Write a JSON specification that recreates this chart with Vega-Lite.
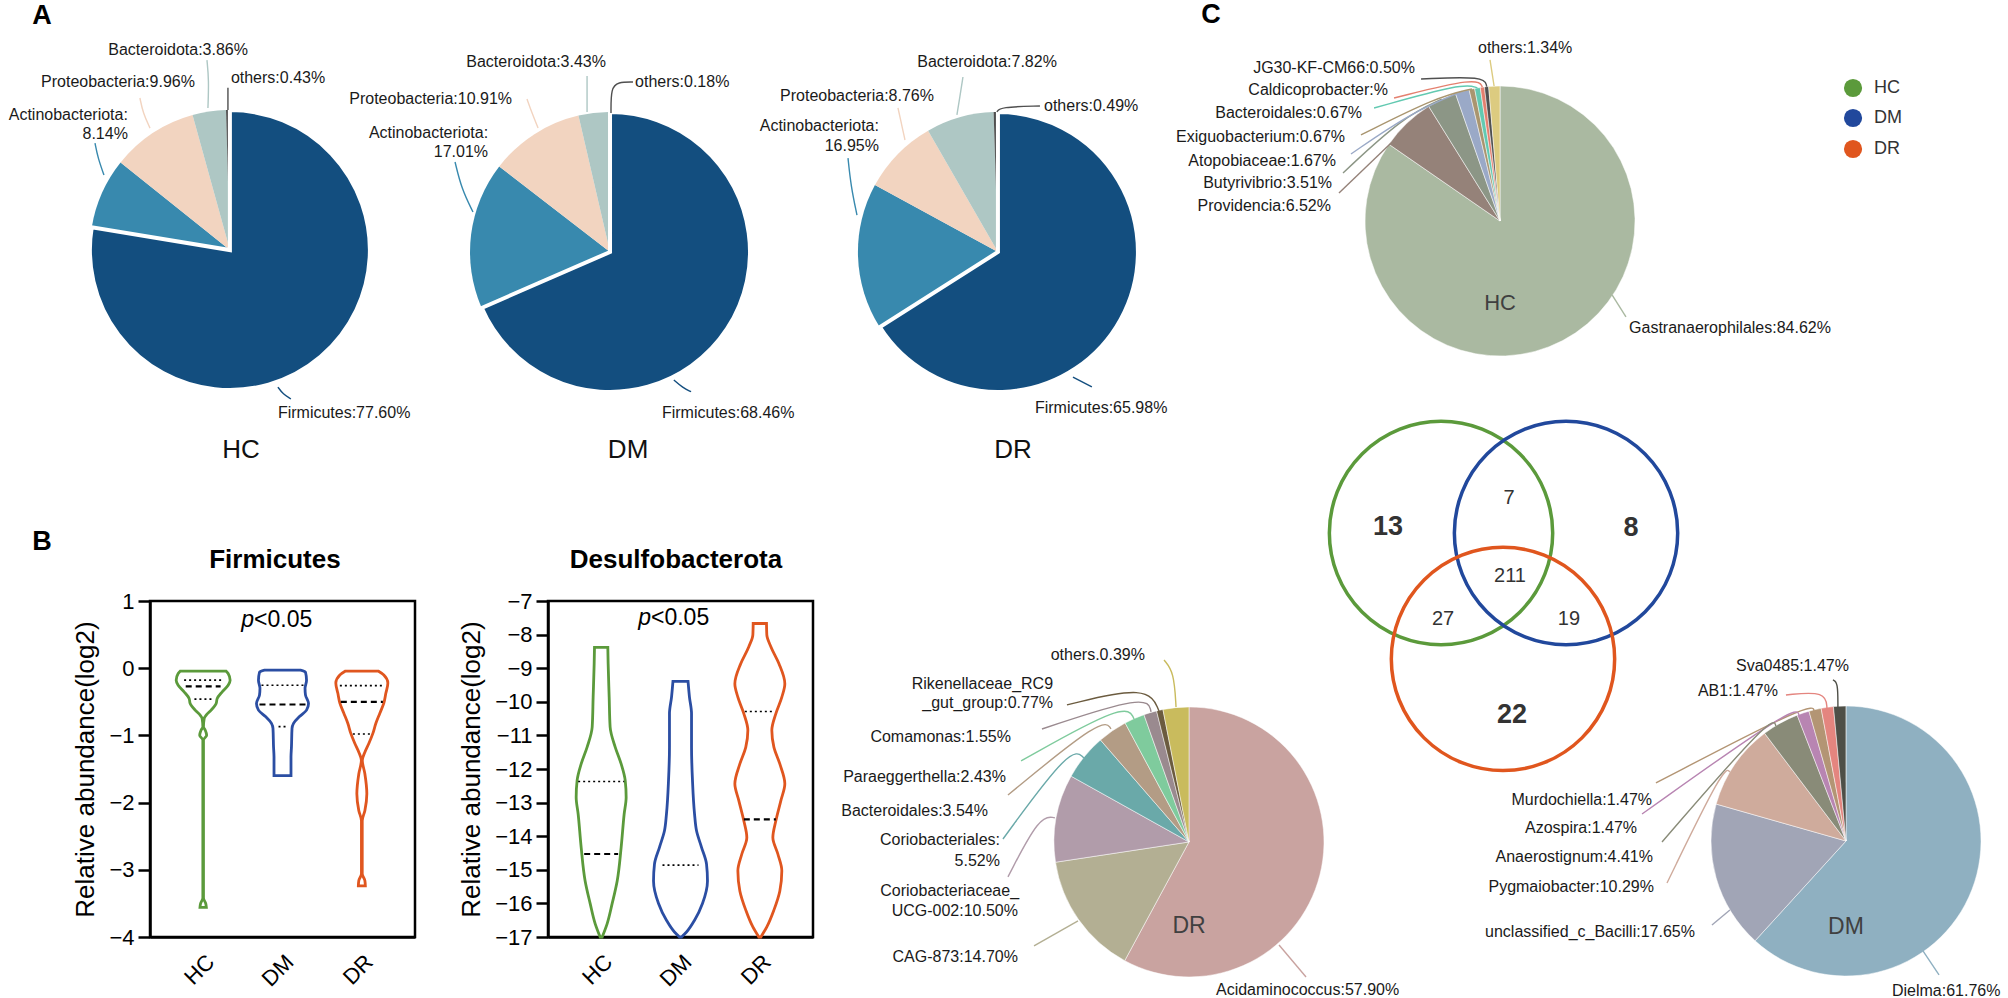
{
  "$schema": "https://vega.github.io/schema/vega-lite/v6.json",
  "padding": 0,
  "background": "white",
  "columns": 4,
  "align": "each",
  "bounds": "flush",
  "spacing": {"row": 0, "column": 0},
  "resolve": {
    "scale": {"x": "independent", "y": "independent", "color": "independent", "stroke": "independent", "theta": "independent"},
    "axis": {"x": "independent", "y": "independent"},
    "legend": {"color": "independent", "stroke": "independent"}
  },
  "config": {
    "font": "Liberation Sans",
    "view": {"stroke": null},
    "axis": {"domainColor": "black", "domainWidth": 2.5, "tickColor": "black", "tickWidth": 2.5, "labelColor": "black", "titleColor": "black", "grid": false, "labelFontSize": 22, "titleFontSize": 26, "titleFontWeight": "normal", "labelFlush": false, "labelOverlap": false, "labelFont": "Liberation Sans", "titleFont": "Liberation Sans"},
    "text": {"font": "Liberation Sans"}
  },
  "datasets": {
    "a_hc": [
      {"name": "Actinobacteriota", "pct": 8.14, "ord": 2, "cx": 0, "cy": 0},
      {"name": "Proteobacteria", "pct": 9.96, "ord": 3, "cx": 0, "cy": 0},
      {"name": "Bacteroidota", "pct": 3.86, "ord": 4, "cx": 0, "cy": 0},
      {"name": "others", "pct": 0.43, "ord": 5, "cx": 0, "cy": 0},
      {"name": "Firmicutes", "pct": 77.6, "ord": 1, "cx": 0, "cy": 0}
    ],
    "a_dm": [
      {"name": "Actinobacteriota", "pct": 17.01, "ord": 2, "cx": 0, "cy": 0},
      {"name": "Proteobacteria", "pct": 10.91, "ord": 3, "cx": 0, "cy": 0},
      {"name": "Bacteroidota", "pct": 3.43, "ord": 4, "cx": 0, "cy": 0},
      {"name": "others", "pct": 0.18, "ord": 5, "cx": 0, "cy": 0},
      {"name": "Firmicutes", "pct": 68.46, "ord": 1, "cx": 0, "cy": 0}
    ],
    "a_dr": [
      {"name": "Actinobacteriota", "pct": 16.95, "ord": 2, "cx": 0, "cy": 0},
      {"name": "Proteobacteria", "pct": 8.76, "ord": 3, "cx": 0, "cy": 0},
      {"name": "Bacteroidota", "pct": 7.82, "ord": 4, "cx": 0, "cy": 0},
      {"name": "others", "pct": 0.49, "ord": 5, "cx": 0, "cy": 0},
      {"name": "Firmicutes", "pct": 65.98, "ord": 1, "cx": 0, "cy": 0}
    ],
    "a_hc_ln": [
      {"name": "Bacteroidota", "i": 0, "x": -0.157, "y": -1.014},
      {"name": "Bacteroidota", "i": 1, "x": -0.15, "y": -1.214},
      {"name": "Bacteroidota", "i": 2, "x": -0.164, "y": -1.357},
      {"name": "Proteobacteria", "i": 0, "x": -0.571, "y": -0.871},
      {"name": "Proteobacteria", "i": 1, "x": -0.621, "y": -0.979},
      {"name": "Proteobacteria", "i": 2, "x": -0.643, "y": -1.086},
      {"name": "Actinobacteriota", "i": 0, "x": -0.9, "y": -0.536},
      {"name": "Actinobacteriota", "i": 1, "x": -0.943, "y": -0.657},
      {"name": "Actinobacteriota", "i": 2, "x": -0.964, "y": -0.764},
      {"name": "others", "i": 0, "x": -0.014, "y": -1.0},
      {"name": "others", "i": 1, "x": -0.014, "y": -1.16},
      {"name": "Firmicutes", "i": 0, "x": 0.343, "y": 0.979},
      {"name": "Firmicutes", "i": 1, "x": 0.38, "y": 1.03},
      {"name": "Firmicutes", "i": 2, "x": 0.436, "y": 1.064}
    ],
    "a_dm_ln": [
      {"name": "Bacteroidota", "i": 0, "x": -0.164, "y": -1.0},
      {"name": "Bacteroidota", "i": 1, "x": -0.164, "y": -1.257},
      {"name": "Proteobacteria", "i": 0, "x": -0.514, "y": -0.886},
      {"name": "Proteobacteria", "i": 1, "x": -0.56, "y": -1.0},
      {"name": "Proteobacteria", "i": 2, "x": -0.593, "y": -1.093},
      {"name": "Actinobacteriota", "i": 0, "x": -0.979, "y": -0.286},
      {"name": "Actinobacteriota", "i": 1, "x": -1.06, "y": -0.45},
      {"name": "Actinobacteriota", "i": 2, "x": -1.107, "y": -0.643},
      {"name": "others", "i": 0, "x": 0.007, "y": -0.993},
      {"name": "others", "i": 1, "x": 0.007, "y": -1.171},
      {"name": "others", "i": 2, "x": 0.057, "y": -1.214},
      {"name": "others", "i": 3, "x": 0.164, "y": -1.214},
      {"name": "Firmicutes", "i": 0, "x": 0.456, "y": 0.914},
      {"name": "Firmicutes", "i": 1, "x": 0.52, "y": 0.97},
      {"name": "Firmicutes", "i": 2, "x": 0.579, "y": 0.998}
    ],
    "a_dr_ln": [
      {"name": "Bacteroidota", "i": 0, "x": -0.293, "y": -0.979},
      {"name": "Bacteroidota", "i": 1, "x": -0.27, "y": -1.12},
      {"name": "Bacteroidota", "i": 2, "x": -0.25, "y": -1.25},
      {"name": "Proteobacteria", "i": 0, "x": -0.664, "y": -0.8},
      {"name": "Proteobacteria", "i": 1, "x": -0.69, "y": -0.92},
      {"name": "Proteobacteria", "i": 2, "x": -0.714, "y": -1.029},
      {"name": "Actinobacteriota", "i": 0, "x": -1.007, "y": -0.264},
      {"name": "Actinobacteriota", "i": 1, "x": -1.05, "y": -0.47},
      {"name": "Actinobacteriota", "i": 2, "x": -1.071, "y": -0.671},
      {"name": "others", "i": 0, "x": -0.007, "y": -1.0},
      {"name": "others", "i": 1, "x": 0.014, "y": -1.036},
      {"name": "others", "i": 2, "x": 0.3, "y": -1.043},
      {"name": "Firmicutes", "i": 0, "x": 0.536, "y": 0.893},
      {"name": "Firmicutes", "i": 1, "x": 0.671, "y": 0.964}
    ],
    "a_hc_r": [
      {"t": "Bacteroidota:3.86%", "x": 0.129, "y": -1.429},
      {"t": "Proteobacteria:9.96%", "x": -0.25, "y": -1.2},
      {"t": "Actinobacteriota:", "x": -0.729, "y": -0.964},
      {"t": "8.14%", "x": -0.729, "y": -0.829}
    ],
    "a_hc_l": [
      {"t": "others:0.43%", "x": 0.007, "y": -1.229},
      {"t": "Firmicutes:77.60%", "x": 0.343, "y": 1.164}
    ],
    "a_dm_r": [
      {"t": "Bacteroidota:3.43%", "x": -0.029, "y": -1.357},
      {"t": "Proteobacteria:10.91%", "x": -0.7, "y": -1.093},
      {"t": "Actinobacteriota:", "x": -0.871, "y": -0.85},
      {"t": "17.01%", "x": -0.871, "y": -0.714}
    ],
    "a_dm_l": [
      {"t": "others:0.18%", "x": 0.179, "y": -1.214},
      {"t": "Firmicutes:68.46%", "x": 0.371, "y": 1.15}
    ],
    "a_dr_r": [
      {"t": "Bacteroidota:7.82%", "x": 0.421, "y": -1.357},
      {"t": "Proteobacteria:8.76%", "x": -0.457, "y": -1.114},
      {"t": "Actinobacteriota:", "x": -0.85, "y": -0.9},
      {"t": "16.95%", "x": -0.85, "y": -0.757}
    ],
    "a_dr_l": [
      {"t": "others:0.49%", "x": 0.329, "y": -1.043},
      {"t": "Firmicutes:65.98%", "x": 0.264, "y": 1.114}
    ],
    "c_hc": [
      {"name": "Gastranaerophilales", "pct": 84.62, "ord": 1, "cx": 0, "cy": 0},
      {"name": "Providencia", "pct": 6.52, "ord": 2, "cx": 0, "cy": 0},
      {"name": "Butyrivibrio", "pct": 3.51, "ord": 3, "cx": 0, "cy": 0},
      {"name": "Atopobiaceae", "pct": 1.67, "ord": 4, "cx": 0, "cy": 0},
      {"name": "Exiguobacterium", "pct": 0.67, "ord": 5, "cx": 0, "cy": 0},
      {"name": "Bacteroidales", "pct": 0.67, "ord": 6, "cx": 0, "cy": 0},
      {"name": "Caldicoprobacter", "pct": 0.5, "ord": 7, "cx": 0, "cy": 0},
      {"name": "JG30-KF-CM66", "pct": 0.5, "ord": 8, "cx": 0, "cy": 0},
      {"name": "others", "pct": 1.34, "ord": 9, "cx": 0, "cy": 0}
    ],
    "c_hc_ln": [
      {"name": "Gastranaerophilales", "i": 0, "x": 0.83, "y": 0.548},
      {"name": "Gastranaerophilales", "i": 1, "x": 0.933, "y": 0.711},
      {"name": "Providencia", "i": 0, "x": -0.807, "y": -0.578},
      {"name": "Providencia", "i": 1, "x": -1.193, "y": -0.207},
      {"name": "Butyrivibrio", "i": 0, "x": -0.432, "y": -0.902},
      {"name": "Butyrivibrio", "i": 1, "x": -0.719, "y": -0.77},
      {"name": "Butyrivibrio", "i": 2, "x": -1.163, "y": -0.356},
      {"name": "Atopobiaceae", "i": 0, "x": -0.281, "y": -0.96},
      {"name": "Atopobiaceae", "i": 1, "x": -0.652, "y": -0.807},
      {"name": "Atopobiaceae", "i": 2, "x": -1.104, "y": -0.496},
      {"name": "Exiguobacterium", "i": 0, "x": -0.208, "y": -0.978},
      {"name": "Exiguobacterium", "i": 1, "x": -0.467, "y": -0.919},
      {"name": "Exiguobacterium", "i": 2, "x": -1.03, "y": -0.637},
      {"name": "Bacteroidales", "i": 0, "x": -0.167, "y": -0.986},
      {"name": "Bacteroidales", "i": 1, "x": -0.274, "y": -1.022},
      {"name": "Bacteroidales", "i": 2, "x": -0.933, "y": -0.837},
      {"name": "Caldicoprobacter", "i": 0, "x": -0.131, "y": -0.991},
      {"name": "Caldicoprobacter", "i": 1, "x": -0.163, "y": -1.067},
      {"name": "Caldicoprobacter", "i": 2, "x": -0.785, "y": -0.911},
      {"name": "JG30-KF-CM66", "i": 0, "x": -0.099, "y": -0.995},
      {"name": "JG30-KF-CM66", "i": 1, "x": -0.111, "y": -1.074},
      {"name": "JG30-KF-CM66", "i": 2, "x": -0.585, "y": -1.052},
      {"name": "others", "i": 0, "x": -0.044, "y": -1.0},
      {"name": "others", "i": 1, "x": -0.074, "y": -1.193}
    ],
    "c_hc_r": [
      {"t": "JG30-KF-CM66:0.50%", "x": -0.63, "y": -1.133},
      {"t": "Caldicoprobacter:%", "x": -0.83, "y": -0.97},
      {"t": "Bacteroidales:0.67%", "x": -1.022, "y": -0.8},
      {"t": "Exiguobacterium:0.67%", "x": -1.148, "y": -0.622},
      {"t": "Atopobiaceae:1.67%", "x": -1.215, "y": -0.444},
      {"t": "Butyrivibrio:3.51%", "x": -1.244, "y": -0.281},
      {"t": "Providencia:6.52%", "x": -1.252, "y": -0.111}
    ],
    "c_hc_l": [
      {"t": "others:1.34%", "x": -0.163, "y": -1.281},
      {"t": "Gastranaerophilales:84.62%", "x": 0.956, "y": 0.793}
    ],
    "venn": [
      {"set": "HC", "x": -0.437, "y": 2.311},
      {"set": "DM", "x": 0.489, "y": 2.311},
      {"set": "DR", "x": 0.022, "y": 3.244}
    ],
    "venn_key": [
      {"set": "HC", "x": 2.615, "y": -0.985},
      {"set": "DM", "x": 2.615, "y": -0.763},
      {"set": "DR", "x": 2.615, "y": -0.533}
    ],
    "venn_n": [
      {"n": "13", "sets": 1, "x": -0.83, "y": 2.267},
      {"n": "8", "sets": 1, "x": 0.97, "y": 2.274},
      {"n": "22", "sets": 1, "x": 0.089, "y": 3.659},
      {"n": "7", "sets": 2, "x": 0.067, "y": 2.052},
      {"n": "27", "sets": 2, "x": -0.422, "y": 2.948},
      {"n": "19", "sets": 2, "x": 0.511, "y": 2.948},
      {"n": "211", "sets": 3, "x": 0.074, "y": 2.63}
    ],
    "c_dr": [
      {"name": "Acidaminococcus", "pct": 57.9, "ord": 1, "cx": 0, "cy": 0},
      {"name": "CAG-873", "pct": 14.7, "ord": 2, "cx": 0, "cy": 0},
      {"name": "Coriobacteriaceae_UCG-002", "pct": 10.5, "ord": 3, "cx": 0, "cy": 0},
      {"name": "Coriobacteriales", "pct": 5.52, "ord": 4, "cx": 0, "cy": 0},
      {"name": "Bacteroidales", "pct": 3.54, "ord": 5, "cx": 0, "cy": 0},
      {"name": "Paraeggerthella", "pct": 2.43, "ord": 6, "cx": 0, "cy": 0},
      {"name": "Comamonas", "pct": 1.55, "ord": 7, "cx": 0, "cy": 0},
      {"name": "Rikenellaceae_RC9_gut_group", "pct": 0.77, "ord": 8, "cx": 0, "cy": 0},
      {"name": "others", "pct": 3.09, "ord": 9, "cx": 0, "cy": 0}
    ],
    "c_dm": [
      {"name": "Dielma", "pct": 61.76, "ord": 1, "cx": 4.867, "cy": -0.007},
      {"name": "unclassified_c_Bacilli", "pct": 17.65, "ord": 2, "cx": 4.867, "cy": -0.007},
      {"name": "Pygmaiobacter", "pct": 10.29, "ord": 3, "cx": 4.867, "cy": -0.007},
      {"name": "Anaerostignum", "pct": 4.41, "ord": 4, "cx": 4.867, "cy": -0.007},
      {"name": "Azospira", "pct": 1.47, "ord": 5, "cx": 4.867, "cy": -0.007},
      {"name": "Murdochiella", "pct": 1.47, "ord": 6, "cx": 4.867, "cy": -0.007},
      {"name": "AB1", "pct": 1.47, "ord": 7, "cx": 4.867, "cy": -0.007},
      {"name": "Sva0485", "pct": 1.47, "ord": 8, "cx": 4.867, "cy": -0.007}
    ],
    "c_b_ln": [
      {"name": "others", "i": 0, "x": -0.096, "y": -1.0},
      {"name": "others", "i": 1, "x": -0.111, "y": -1.259},
      {"name": "others", "i": 2, "x": -0.185, "y": -1.348},
      {"name": "Rikenellaceae_RC9_gut_group", "i": 0, "x": -0.222, "y": -0.97},
      {"name": "Rikenellaceae_RC9_gut_group", "i": 1, "x": -0.304, "y": -1.163},
      {"name": "Rikenellaceae_RC9_gut_group", "i": 2, "x": -0.904, "y": -1.015},
      {"name": "Comamonas", "i": 0, "x": -0.281, "y": -0.963},
      {"name": "Comamonas", "i": 1, "x": -0.311, "y": -1.096},
      {"name": "Comamonas", "i": 2, "x": -1.089, "y": -0.837},
      {"name": "Paraeggerthella", "i": 0, "x": -0.407, "y": -0.911},
      {"name": "Paraeggerthella", "i": 1, "x": -0.467, "y": -1.037},
      {"name": "Paraeggerthella", "i": 2, "x": -1.244, "y": -0.6},
      {"name": "Bacteroidales", "i": 0, "x": -0.578, "y": -0.837},
      {"name": "Bacteroidales", "i": 1, "x": -0.637, "y": -0.926},
      {"name": "Bacteroidales", "i": 2, "x": -1.341, "y": -0.348},
      {"name": "Coriobacteriales", "i": 0, "x": -0.778, "y": -0.622},
      {"name": "Coriobacteriales", "i": 1, "x": -0.874, "y": -0.711},
      {"name": "Coriobacteriales", "i": 2, "x": -1.378, "y": -0.022},
      {"name": "Coriobacteriaceae_UCG-002", "i": 0, "x": -0.993, "y": -0.178},
      {"name": "Coriobacteriaceae_UCG-002", "i": 1, "x": -1.104, "y": -0.2},
      {"name": "Coriobacteriaceae_UCG-002", "i": 2, "x": -1.341, "y": 0.259},
      {"name": "CAG-873", "i": 0, "x": -0.822, "y": 0.585},
      {"name": "CAG-873", "i": 1, "x": -1.148, "y": 0.77},
      {"name": "Acidaminococcus", "i": 0, "x": 0.667, "y": 0.763},
      {"name": "Acidaminococcus", "i": 1, "x": 0.867, "y": 1.0},
      {"name": "Sva0485", "i": 0, "x": 4.807, "y": -0.996},
      {"name": "Sva0485", "i": 1, "x": 4.807, "y": -1.185},
      {"name": "Sva0485", "i": 2, "x": 4.77, "y": -1.2},
      {"name": "AB1", "i": 0, "x": 4.726, "y": -0.985},
      {"name": "AB1", "i": 1, "x": 4.719, "y": -1.119},
      {"name": "AB1", "i": 2, "x": 4.422, "y": -1.089},
      {"name": "Murdochiella", "i": 0, "x": 4.63, "y": -0.963},
      {"name": "Murdochiella", "i": 1, "x": 4.622, "y": -1.044},
      {"name": "Murdochiella", "i": 2, "x": 3.459, "y": -0.437},
      {"name": "Azospira", "i": 0, "x": 4.519, "y": -0.941},
      {"name": "Azospira", "i": 1, "x": 4.489, "y": -1.015},
      {"name": "Azospira", "i": 2, "x": 3.356, "y": -0.207},
      {"name": "Anaerostignum", "i": 0, "x": 4.348, "y": -0.859},
      {"name": "Anaerostignum", "i": 1, "x": 4.319, "y": -0.941},
      {"name": "Anaerostignum", "i": 2, "x": 3.504, "y": 0.0},
      {"name": "Pygmaiobacter", "i": 0, "x": 4.007, "y": -0.519},
      {"name": "Pygmaiobacter", "i": 1, "x": 3.963, "y": -0.563},
      {"name": "Pygmaiobacter", "i": 2, "x": 3.541, "y": 0.304},
      {"name": "unclassified_c_Bacilli", "i": 0, "x": 4.007, "y": 0.504},
      {"name": "unclassified_c_Bacilli", "i": 1, "x": 3.874, "y": 0.615},
      {"name": "Dielma", "i": 0, "x": 5.437, "y": 0.807},
      {"name": "Dielma", "i": 1, "x": 5.556, "y": 0.985}
    ],
    "c_b_r": [
      {"t": "others.0.39%", "x": -0.326, "y": -1.385},
      {"t": "Rikenellaceae_RC9", "x": -1.007, "y": -1.17},
      {"t": "_gut_group:0.77%", "x": -1.007, "y": -1.03},
      {"t": "Comamonas:1.55%", "x": -1.319, "y": -0.778},
      {"t": "Paraeggerthella:2.43%", "x": -1.356, "y": -0.481},
      {"t": "Bacteroidales:3.54%", "x": -1.489, "y": -0.23},
      {"t": "Coriobacteriales:", "x": -1.4, "y": -0.015},
      {"t": "5.52%", "x": -1.4, "y": 0.141},
      {"t": "Coriobacteriaceae_", "x": -1.259, "y": 0.363},
      {"t": "UCG-002:10.50%", "x": -1.267, "y": 0.511},
      {"t": "CAG-873:14.70%", "x": -1.267, "y": 0.852},
      {"t": "Sva0485:1.47%", "x": 4.889, "y": -1.304},
      {"t": "AB1:1.47%", "x": 4.363, "y": -1.119},
      {"t": "Murdochiella:1.47%", "x": 3.43, "y": -0.311},
      {"t": "Azospira:1.47%", "x": 3.319, "y": -0.104},
      {"t": "Anaerostignum:4.41%", "x": 3.437, "y": 0.111},
      {"t": "Pygmaiobacter:10.29%", "x": 3.444, "y": 0.333},
      {"t": "unclassified_c_Bacilli:17.65%", "x": 3.748, "y": 0.667}
    ],
    "c_b_l": [
      {"t": "Acidaminococcus:57.90%", "x": 0.2, "y": 1.096},
      {"t": "Dielma:61.76%", "x": 5.207, "y": 1.104}
    ],
    "firm_v": [
      {"g": "HC", "v": -0.045, "l": 0.71, "r": 1.29},
      {"g": "HC", "v": -0.079, "l": 0.685, "r": 1.315},
      {"g": "HC", "v": -0.178, "l": 0.66, "r": 1.34},
      {"g": "HC", "v": -0.253, "l": 0.685, "r": 1.315},
      {"g": "HC", "v": -0.352, "l": 0.76, "r": 1.24},
      {"g": "HC", "v": -0.45, "l": 0.823, "r": 1.177},
      {"g": "HC", "v": -0.525, "l": 0.836, "r": 1.164},
      {"g": "HC", "v": -0.624, "l": 0.899, "r": 1.101},
      {"g": "HC", "v": -0.698, "l": 0.962, "r": 1.038},
      {"g": "HC", "v": -0.747, "l": 0.987, "r": 1.013},
      {"g": "HC", "v": -0.87, "l": 0.996, "r": 1.004},
      {"g": "HC", "v": -0.92, "l": 0.975, "r": 1.025},
      {"g": "HC", "v": -0.996, "l": 0.956, "r": 1.044},
      {"g": "HC", "v": -1.07, "l": 0.996, "r": 1.004},
      {"g": "HC", "v": -3.42, "l": 0.996, "r": 1.004},
      {"g": "HC", "v": -3.5, "l": 0.968, "r": 1.032},
      {"g": "HC", "v": -3.56, "l": 0.96, "r": 1.04},
      {"g": "DM", "v": -0.03, "l": 1.773, "r": 2.227},
      {"g": "DM", "v": -0.06, "l": 1.71, "r": 2.29},
      {"g": "DM", "v": -0.178, "l": 1.697, "r": 2.303},
      {"g": "DM", "v": -0.3, "l": 1.716, "r": 2.284},
      {"g": "DM", "v": -0.4, "l": 1.71, "r": 2.29},
      {"g": "DM", "v": -0.525, "l": 1.672, "r": 2.328},
      {"g": "DM", "v": -0.624, "l": 1.697, "r": 2.303},
      {"g": "DM", "v": -0.72, "l": 1.786, "r": 2.214},
      {"g": "DM", "v": -0.82, "l": 1.861, "r": 2.139},
      {"g": "DM", "v": -0.896, "l": 1.88, "r": 2.12},
      {"g": "DM", "v": -1.17, "l": 1.887, "r": 2.113},
      {"g": "DM", "v": -1.32, "l": 1.893, "r": 2.107},
      {"g": "DM", "v": -1.6, "l": 1.893, "r": 2.107},
      {"g": "DR", "v": -0.045, "l": 2.789, "r": 3.211},
      {"g": "DR", "v": -0.1, "l": 2.723, "r": 3.277},
      {"g": "DR", "v": -0.22, "l": 2.672, "r": 3.328},
      {"g": "DR", "v": -0.37, "l": 2.697, "r": 3.303},
      {"g": "DR", "v": -0.52, "l": 2.723, "r": 3.277},
      {"g": "DR", "v": -0.67, "l": 2.773, "r": 3.227},
      {"g": "DR", "v": -0.82, "l": 2.823, "r": 3.177},
      {"g": "DR", "v": -0.97, "l": 2.861, "r": 3.139},
      {"g": "DR", "v": -1.12, "l": 2.912, "r": 3.088},
      {"g": "DR", "v": -1.25, "l": 2.962, "r": 3.038},
      {"g": "DR", "v": -1.37, "l": 2.994, "r": 3.006},
      {"g": "DR", "v": -1.57, "l": 2.962, "r": 3.038},
      {"g": "DR", "v": -1.87, "l": 2.937, "r": 3.063},
      {"g": "DR", "v": -2.12, "l": 2.962, "r": 3.038},
      {"g": "DR", "v": -2.27, "l": 2.995, "r": 3.005},
      {"g": "DR", "v": -3.06, "l": 2.995, "r": 3.005},
      {"g": "DR", "v": -3.16, "l": 2.962, "r": 3.038},
      {"g": "DR", "v": -3.24, "l": 2.956, "r": 3.044}
    ],
    "firm_q": [
      {"g": "HC", "stat": "quartile", "v": -0.178, "l": 0.76, "r": 1.24},
      {"g": "HC", "stat": "median", "v": -0.27, "l": 0.78, "r": 1.22},
      {"g": "HC", "stat": "quartile", "v": -0.46, "l": 0.89, "r": 1.11},
      {"g": "DM", "stat": "quartile", "v": -0.253, "l": 1.735, "r": 2.265},
      {"g": "DM", "stat": "median", "v": -0.54, "l": 1.71, "r": 2.29},
      {"g": "DM", "stat": "quartile", "v": -0.87, "l": 1.95, "r": 2.05},
      {"g": "DR", "stat": "quartile", "v": -0.26, "l": 2.723, "r": 3.277},
      {"g": "DR", "stat": "median", "v": -0.5, "l": 2.735, "r": 3.265},
      {"g": "DR", "stat": "quartile", "v": -0.98, "l": 2.887, "r": 3.113}
    ],
    "des_v": [
      {"g": "HC", "v": -8.38, "l": 0.916, "r": 1.084},
      {"g": "HC", "v": -8.86, "l": 0.912, "r": 1.088},
      {"g": "HC", "v": -9.86, "l": 0.899, "r": 1.101},
      {"g": "HC", "v": -10.75, "l": 0.887, "r": 1.113},
      {"g": "HC", "v": -11.35, "l": 0.823, "r": 1.177},
      {"g": "HC", "v": -11.85, "l": 0.748, "r": 1.252},
      {"g": "HC", "v": -12.34, "l": 0.697, "r": 1.303},
      {"g": "HC", "v": -12.84, "l": 0.685, "r": 1.315},
      {"g": "HC", "v": -13.34, "l": 0.71, "r": 1.29},
      {"g": "HC", "v": -14.33, "l": 0.748, "r": 1.252},
      {"g": "HC", "v": -15.33, "l": 0.798, "r": 1.202},
      {"g": "HC", "v": -16.0, "l": 0.861, "r": 1.139},
      {"g": "HC", "v": -16.6, "l": 0.924, "r": 1.076},
      {"g": "HC", "v": -17.0, "l": 0.987, "r": 1.013},
      {"g": "DM", "v": -9.39, "l": 1.905, "r": 2.095},
      {"g": "DM", "v": -9.86, "l": 1.887, "r": 2.113},
      {"g": "DM", "v": -10.35, "l": 1.861, "r": 2.139},
      {"g": "DM", "v": -11.35, "l": 1.861, "r": 2.139},
      {"g": "DM", "v": -12.34, "l": 1.849, "r": 2.151},
      {"g": "DM", "v": -13.34, "l": 1.823, "r": 2.177},
      {"g": "DM", "v": -13.84, "l": 1.798, "r": 2.202},
      {"g": "DM", "v": -14.33, "l": 1.735, "r": 2.265},
      {"g": "DM", "v": -14.83, "l": 1.672, "r": 2.328},
      {"g": "DM", "v": -15.33, "l": 1.66, "r": 2.34},
      {"g": "DM", "v": -16.0, "l": 1.723, "r": 2.277},
      {"g": "DM", "v": -16.5, "l": 1.823, "r": 2.177},
      {"g": "DM", "v": -16.85, "l": 1.924, "r": 2.076},
      {"g": "DM", "v": -17.0, "l": 1.987, "r": 2.013},
      {"g": "DR", "v": -7.67, "l": 2.916, "r": 3.084},
      {"g": "DR", "v": -8.01, "l": 2.912, "r": 3.088},
      {"g": "DR", "v": -8.36, "l": 2.861, "r": 3.139},
      {"g": "DR", "v": -8.86, "l": 2.76, "r": 3.24},
      {"g": "DR", "v": -9.46, "l": 2.685, "r": 3.315},
      {"g": "DR", "v": -9.86, "l": 2.723, "r": 3.277},
      {"g": "DR", "v": -10.35, "l": 2.798, "r": 3.202},
      {"g": "DR", "v": -10.85, "l": 2.849, "r": 3.151},
      {"g": "DR", "v": -11.35, "l": 2.823, "r": 3.177},
      {"g": "DR", "v": -11.85, "l": 2.748, "r": 3.252},
      {"g": "DR", "v": -12.44, "l": 2.685, "r": 3.315},
      {"g": "DR", "v": -12.94, "l": 2.735, "r": 3.265},
      {"g": "DR", "v": -13.54, "l": 2.798, "r": 3.202},
      {"g": "DR", "v": -14.04, "l": 2.836, "r": 3.164},
      {"g": "DR", "v": -14.53, "l": 2.773, "r": 3.227},
      {"g": "DR", "v": -15.03, "l": 2.723, "r": 3.277},
      {"g": "DR", "v": -15.63, "l": 2.748, "r": 3.252},
      {"g": "DR", "v": -16.2, "l": 2.823, "r": 3.177},
      {"g": "DR", "v": -16.7, "l": 2.912, "r": 3.088},
      {"g": "DR", "v": -17.0, "l": 2.987, "r": 3.013}
    ],
    "des_q": [
      {"g": "HC", "stat": "quartile", "v": -12.37, "l": 0.71, "r": 1.29},
      {"g": "HC", "stat": "median", "v": -14.53, "l": 0.786, "r": 1.214},
      {"g": "DM", "stat": "quartile", "v": -14.86, "l": 1.773, "r": 2.227},
      {"g": "DR", "stat": "quartile", "v": -10.29, "l": 2.811, "r": 3.189},
      {"g": "DR", "stat": "median", "v": -13.5, "l": 2.798, "r": 3.202}
    ]
  },
  "concat": [
    {
      "width": 150, "height": 601,
      "encoding": {
        "x": {"field": "x", "type": "quantitative", "scale": {"domain": [-1.643, -0.571], "nice": false, "zero": false}, "axis": null},
        "y": {"field": "y", "type": "quantitative", "scale": {"domain": [-1.786, 2.507], "nice": false, "zero": false, "reverse": true}, "axis": null}
      },
      "layer": [
        {"data": {"name": "a_hc"},
         "transform": [{"stack": "pct", "groupby": [], "sort": [{"field": "ord", "order": "ascending"}], "as": ["t0", "t1"]}],
         "mark": {"type": "arc", "radius": 140, "stroke": "white"},
         "encoding": {
           "x": {"field": "cx", "type": "quantitative", "axis": null},
           "y": {"field": "cy", "type": "quantitative", "axis": null},
           "theta": {"field": "t0", "type": "quantitative", "scale": {"domain": [0, 100], "nice": false, "zero": false}},
           "theta2": {"field": "t1"},
           "color": {"field": "name", "type": "nominal", "scale": {"domain": ["Firmicutes", "Actinobacteriota", "Proteobacteria", "Bacteroidota", "others"], "range": ["#134e7f", "#3889ae", "#f2d4c0", "#aec7c4", "#4f4f4f"]}, "legend": null},
           "strokeWidth": {"condition": {"test": "datum.name === 'Firmicutes'", "value": 4}, "value": 0}}},
        {"data": {"name": "a_hc_ln"}, "mark": {"type": "line", "strokeWidth": 1.4, "interpolate": "basis"},
         "encoding": {
           "color": {"field": "name", "type": "nominal", "scale": {"domain": ["Firmicutes", "Actinobacteriota", "Proteobacteria", "Bacteroidota", "others"], "range": ["#134e7f", "#3889ae", "#f2d4c0", "#aec7c4", "#4f4f4f"]}, "legend": null},
           "detail": {"field": "name", "type": "nominal"},
           "order": {"field": "i", "type": "quantitative"}}},
        {"data": {"name": "a_hc_r"}, "mark": {"type": "text", "align": "right", "baseline": "middle", "fontSize": 16, "color": "#1a1a1a"}, "encoding": {"text": {"field": "t", "type": "nominal"}}},
        {"data": {"name": "a_hc_l"}, "mark": {"type": "text", "align": "left", "baseline": "middle", "fontSize": 16, "color": "#1a1a1a"}, "encoding": {"text": {"field": "t", "type": "nominal"}}},
        {"data": {"values": [{"t": "HC", "x": 0.079, "y": 1.429}]}, "mark": {"type": "text", "align": "center", "baseline": "middle", "fontSize": 26, "color": "#111111"}, "encoding": {"text": {"field": "t", "type": "nominal"}}},
        {"data": {"values": [{"t": "A", "x": -1.343, "y": -1.671}]}, "mark": {"type": "text", "align": "center", "baseline": "middle", "fontSize": 27, "fontWeight": "bold", "color": "#000000"}, "encoding": {"text": {"field": "t", "type": "nominal"}}}
      ]
    },
    {
      "width": 398, "height": 601,
      "encoding": {
        "x": {"field": "x", "type": "quantitative", "scale": {"domain": [-3.286, -0.443], "nice": false, "zero": false}, "axis": null},
        "y": {"field": "y", "type": "quantitative", "scale": {"domain": [-1.8, 2.493], "nice": false, "zero": false, "reverse": true}, "axis": null}
      },
      "layer": [
        {"data": {"name": "a_dm"},
         "transform": [{"stack": "pct", "groupby": [], "sort": [{"field": "ord", "order": "ascending"}], "as": ["t0", "t1"]}],
         "mark": {"type": "arc", "radius": 140, "stroke": "white"},
         "encoding": {
           "x": {"field": "cx", "type": "quantitative", "axis": null},
           "y": {"field": "cy", "type": "quantitative", "axis": null},
           "theta": {"field": "t0", "type": "quantitative", "scale": {"domain": [0, 100], "nice": false, "zero": false}},
           "theta2": {"field": "t1"},
           "color": {"field": "name", "type": "nominal", "scale": {"domain": ["Firmicutes", "Actinobacteriota", "Proteobacteria", "Bacteroidota", "others"], "range": ["#134e7f", "#3889ae", "#f2d4c0", "#aec7c4", "#4f4f4f"]}, "legend": null},
           "strokeWidth": {"condition": {"test": "datum.name === 'Firmicutes'", "value": 4}, "value": 0}}},
        {"data": {"name": "a_dm_ln"}, "mark": {"type": "line", "strokeWidth": 1.4, "interpolate": "basis"},
         "encoding": {
           "color": {"field": "name", "type": "nominal", "scale": {"domain": ["Firmicutes", "Actinobacteriota", "Proteobacteria", "Bacteroidota", "others"], "range": ["#134e7f", "#3889ae", "#f2d4c0", "#aec7c4", "#4f4f4f"]}, "legend": null},
           "detail": {"field": "name", "type": "nominal"},
           "order": {"field": "i", "type": "quantitative"}}},
        {"data": {"name": "a_dm_r"}, "mark": {"type": "text", "align": "right", "baseline": "middle", "fontSize": 16, "color": "#1a1a1a"}, "encoding": {"text": {"field": "t", "type": "nominal"}}},
        {"data": {"name": "a_dm_l"}, "mark": {"type": "text", "align": "left", "baseline": "middle", "fontSize": 16, "color": "#1a1a1a"}, "encoding": {"text": {"field": "t", "type": "nominal"}}},
        {"data": {"values": [{"t": "DM", "x": 0.129, "y": 1.414}]}, "mark": {"type": "text", "align": "center", "baseline": "middle", "fontSize": 26, "color": "#111111"}, "encoding": {"text": {"field": "t", "type": "nominal"}}}
      ]
    },
    {
      "width": 398, "height": 601,
      "encoding": {
        "x": {"field": "x", "type": "quantitative", "scale": {"domain": [-3.214, -0.371], "nice": false, "zero": false}, "axis": null},
        "y": {"field": "y", "type": "quantitative", "scale": {"domain": [-1.8, 2.493], "nice": false, "zero": false, "reverse": true}, "axis": null}
      },
      "layer": [
        {"data": {"name": "a_dr"},
         "transform": [{"stack": "pct", "groupby": [], "sort": [{"field": "ord", "order": "ascending"}], "as": ["t0", "t1"]}],
         "mark": {"type": "arc", "radius": 140, "stroke": "white"},
         "encoding": {
           "x": {"field": "cx", "type": "quantitative", "axis": null},
           "y": {"field": "cy", "type": "quantitative", "axis": null},
           "theta": {"field": "t0", "type": "quantitative", "scale": {"domain": [0, 100], "nice": false, "zero": false}},
           "theta2": {"field": "t1"},
           "color": {"field": "name", "type": "nominal", "scale": {"domain": ["Firmicutes", "Actinobacteriota", "Proteobacteria", "Bacteroidota", "others"], "range": ["#134e7f", "#3889ae", "#f2d4c0", "#aec7c4", "#4f4f4f"]}, "legend": null},
           "strokeWidth": {"condition": {"test": "datum.name === 'Firmicutes'", "value": 4}, "value": 0}}},
        {"data": {"name": "a_dr_ln"}, "mark": {"type": "line", "strokeWidth": 1.4, "interpolate": "basis"},
         "encoding": {
           "color": {"field": "name", "type": "nominal", "scale": {"domain": ["Firmicutes", "Actinobacteriota", "Proteobacteria", "Bacteroidota", "others"], "range": ["#134e7f", "#3889ae", "#f2d4c0", "#aec7c4", "#4f4f4f"]}, "legend": null},
           "detail": {"field": "name", "type": "nominal"},
           "order": {"field": "i", "type": "quantitative"}}},
        {"data": {"name": "a_dr_r"}, "mark": {"type": "text", "align": "right", "baseline": "middle", "fontSize": 16, "color": "#1a1a1a"}, "encoding": {"text": {"field": "t", "type": "nominal"}}},
        {"data": {"name": "a_dr_l"}, "mark": {"type": "text", "align": "left", "baseline": "middle", "fontSize": 16, "color": "#1a1a1a"}, "encoding": {"text": {"field": "t", "type": "nominal"}}},
        {"data": {"values": [{"t": "DR", "x": 0.107, "y": 1.414}]}, "mark": {"type": "text", "align": "center", "baseline": "middle", "fontSize": 26, "color": "#111111"}, "encoding": {"text": {"field": "t", "type": "nominal"}}}
      ]
    },
    {
      "width": 1062, "height": 601,
      "resolve": {"scale": {"color": "independent"}},
      "encoding": {
        "x": {"field": "x", "type": "quantitative", "scale": {"domain": [-4.104, 3.763], "nice": false, "zero": false}, "axis": null},
        "y": {"field": "y", "type": "quantitative", "scale": {"domain": [-1.637, 2.815], "nice": false, "zero": false, "reverse": true}, "axis": null}
      },
      "layer": [
        {"data": {"name": "c_hc"},
         "transform": [{"stack": "pct", "groupby": [], "sort": [{"field": "ord", "order": "ascending"}], "as": ["t0", "t1"]}],
         "mark": {"type": "arc", "radius": 135, "stroke": "white", "strokeWidth": 0.5},
         "encoding": {
           "x": {"field": "cx", "type": "quantitative", "axis": null},
           "y": {"field": "cy", "type": "quantitative", "axis": null},
           "theta": {"field": "t0", "type": "quantitative", "scale": {"domain": [0, 100], "nice": false, "zero": false}},
           "theta2": {"field": "t1"},
           "color": {"field": "name", "type": "nominal", "scale": {"domain": ["Gastranaerophilales", "Providencia", "Butyrivibrio", "Atopobiaceae", "Exiguobacterium", "Bacteroidales", "Caldicoprobacter", "JG30-KF-CM66", "others"], "range": ["#aab9a1", "#958279", "#8c9686", "#9aa9c7", "#a9956f", "#62c9b1", "#e4806f", "#505050", "#dccb80"]}, "legend": null}}},
        {"data": {"name": "c_hc_ln"}, "mark": {"type": "line", "strokeWidth": 1.4, "interpolate": "basis"},
         "encoding": {
           "color": {"field": "name", "type": "nominal", "scale": {"domain": ["Gastranaerophilales", "Providencia", "Butyrivibrio", "Atopobiaceae", "Exiguobacterium", "Bacteroidales", "Caldicoprobacter", "JG30-KF-CM66", "others"], "range": ["#aab9a1", "#958279", "#8c9686", "#9aa9c7", "#a9956f", "#62c9b1", "#e4806f", "#505050", "#dccb80"]}, "legend": null},
           "detail": {"field": "name", "type": "nominal"},
           "order": {"field": "i", "type": "quantitative"}}},
        {"data": {"name": "c_hc_r"}, "mark": {"type": "text", "align": "right", "baseline": "middle", "fontSize": 16, "color": "#1a1a1a"}, "encoding": {"text": {"field": "t", "type": "nominal"}}},
        {"data": {"name": "c_hc_l"}, "mark": {"type": "text", "align": "left", "baseline": "middle", "fontSize": 16, "color": "#1a1a1a"}, "encoding": {"text": {"field": "t", "type": "nominal"}}},
        {"data": {"values": [{"t": "HC", "x": 0, "y": 0.607}]}, "mark": {"type": "text", "align": "center", "baseline": "middle", "fontSize": 22, "color": "#404040"}, "encoding": {"text": {"field": "t", "type": "nominal"}}},
        {"data": {"values": [{"t": "C", "x": -2.141, "y": -1.526}]}, "mark": {"type": "text", "align": "center", "baseline": "middle", "fontSize": 27, "fontWeight": "bold", "color": "#000000"}, "encoding": {"text": {"field": "t", "type": "nominal"}}},
        {"data": {"name": "venn"}, "mark": {"type": "point", "shape": "circle", "filled": false, "size": 49876, "strokeWidth": 3.5, "opacity": 1},
         "encoding": {
           "color": {"field": "set", "type": "nominal", "scale": {"domain": ["HC", "DM", "DR"], "range": ["#5b9a3b", "#21489c", "#e0561e"]}, "legend": null}}},
        {"data": {"name": "venn_key"}, "mark": {"type": "point", "shape": "circle", "filled": true, "size": 330, "opacity": 1},
         "encoding": {
           "color": {"field": "set", "type": "nominal", "scale": {"domain": ["HC", "DM", "DR"], "range": ["#5b9a3b", "#21489c", "#e0561e"]}, "legend": null}}},
        {"data": {"name": "venn_key"}, "mark": {"type": "text", "align": "left", "baseline": "middle", "fontSize": 18, "dx": 21, "color": "#333333"}, "encoding": {"text": {"field": "set", "type": "nominal"}}},
        {"data": {"name": "venn_n"}, "transform": [{"filter": "datum.sets === 1"}], "mark": {"type": "text", "align": "center", "baseline": "middle", "fontSize": 27, "fontWeight": "bold", "color": "#333333"}, "encoding": {"text": {"field": "n", "type": "nominal"}}},
        {"data": {"name": "venn_n"}, "transform": [{"filter": "datum.sets > 1"}], "mark": {"type": "text", "align": "center", "baseline": "middle", "fontSize": 20, "color": "#333333"}, "encoding": {"text": {"field": "n", "type": "nominal"}}}
      ]
    },
    {
      "width": 150, "height": 397,
      "data": {"values": []},
      "mark": {"type": "text"}
    },
    {
      "width": 265, "height": 336,
      "view": {"stroke": "black", "strokeWidth": 2.5},
      "encoding": {
        "x": {"field": "l", "type": "quantitative", "scale": {"domain": [0.33, 3.67], "nice": false, "zero": false},
              "axis": {"values": [1, 2, 3], "labelExpr": "datum.value === 1 ? 'HC' : datum.value === 2 ? 'DM' : 'DR'", "labelAngle": -45, "ticks": false, "labelPadding": 14, "title": null}},
        "y": {"field": "v", "type": "quantitative", "scale": {"domain": [-4, 1], "nice": false, "zero": false},
              "axis": {"values": [1, 0, -1, -2, -3, -4], "title": "Relative abundance(log2)", "tickSize": 12, "labelPadding": 4, "titlePadding": 10}}
      },
      "layer": [
        {"data": {"name": "firm_v"}, "mark": {"type": "area", "orient": "horizontal", "fill": "white", "fillOpacity": 1, "strokeWidth": 2.8, "interpolate": "monotone"},
         "encoding": {"x2": {"field": "r"}, "stroke": {"field": "g", "type": "nominal", "scale": {"domain": ["HC", "DM", "DR"], "range": ["#5b9a3b", "#2b4ea3", "#e0561f"]}, "legend": null}}},
        {"data": {"name": "firm_q"}, "transform": [{"filter": "datum.stat === 'quartile'"}], "mark": {"type": "rule", "strokeDash": [2, 3], "strokeWidth": 1.6, "color": "black"}, "encoding": {"x2": {"field": "r"}}},
        {"data": {"name": "firm_q"}, "transform": [{"filter": "datum.stat === 'median'"}], "mark": {"type": "rule", "strokeDash": [6, 4], "strokeWidth": 2.2, "color": "black"}, "encoding": {"x2": {"field": "r"}}},
        {"data": {"values": [{"t1": "p", "t2": "<0.05", "l": 1.641, "v": 0.717}]}, "mark": {"type": "text", "align": "right", "baseline": "middle", "fontSize": 23, "fontStyle": "italic", "color": "black"}, "encoding": {"text": {"field": "t1", "type": "nominal"}}},
        {"data": {"values": [{"t1": "p", "t2": "<0.05", "l": 1.641, "v": 0.717}]}, "mark": {"type": "text", "align": "left", "baseline": "middle", "fontSize": 23, "color": "black"}, "encoding": {"text": {"field": "t2", "type": "nominal"}}},
        {"data": {"values": [{"t": "Firmicutes", "l": 1.905, "v": 1.61}]}, "mark": {"type": "text", "align": "center", "baseline": "middle", "fontSize": 26, "fontWeight": "bold", "color": "black"}, "encoding": {"text": {"field": "t", "type": "nominal"}}},
        {"data": {"values": [{"t": "B", "l": -1.03, "v": 1.88}]}, "mark": {"type": "text", "align": "center", "baseline": "middle", "fontSize": 27, "fontWeight": "bold", "color": "black"}, "encoding": {"text": {"field": "t", "type": "nominal"}}}
      ]
    },
    {
      "width": 265, "height": 336,
      "view": {"stroke": "black", "strokeWidth": 2.5},
      "encoding": {
        "x": {"field": "l", "type": "quantitative", "scale": {"domain": [0.33, 3.67], "nice": false, "zero": false},
              "axis": {"values": [1, 2, 3], "labelExpr": "datum.value === 1 ? 'HC' : datum.value === 2 ? 'DM' : 'DR'", "labelAngle": -45, "ticks": false, "labelPadding": 14, "title": null}},
        "y": {"field": "v", "type": "quantitative", "scale": {"domain": [-17, -7], "nice": false, "zero": false},
              "axis": {"values": [-7, -8, -9, -10, -11, -12, -13, -14, -15, -16, -17], "title": "Relative abundance(log2)", "tickSize": 12, "labelPadding": 4, "titlePadding": 10}}
      },
      "layer": [
        {"data": {"name": "des_v"}, "mark": {"type": "area", "orient": "horizontal", "fill": "white", "fillOpacity": 1, "strokeWidth": 2.8, "interpolate": "monotone"},
         "encoding": {"x2": {"field": "r"}, "stroke": {"field": "g", "type": "nominal", "scale": {"domain": ["HC", "DM", "DR"], "range": ["#5b9a3b", "#2b4ea3", "#e0561f"]}, "legend": null}}},
        {"data": {"name": "des_q"}, "transform": [{"filter": "datum.stat === 'quartile'"}], "mark": {"type": "rule", "strokeDash": [2, 3], "strokeWidth": 1.6, "color": "black"}, "encoding": {"x2": {"field": "r"}}},
        {"data": {"name": "des_q"}, "transform": [{"filter": "datum.stat === 'median'"}], "mark": {"type": "rule", "strokeDash": [6, 4], "strokeWidth": 2.2, "color": "black"}, "encoding": {"x2": {"field": "r"}}},
        {"data": {"values": [{"t1": "p", "t2": "<0.05", "l": 1.628, "v": -7.506}]}, "mark": {"type": "text", "align": "right", "baseline": "middle", "fontSize": 23, "fontStyle": "italic", "color": "black"}, "encoding": {"text": {"field": "t1", "type": "nominal"}}},
        {"data": {"values": [{"t1": "p", "t2": "<0.05", "l": 1.628, "v": -7.506}]}, "mark": {"type": "text", "align": "left", "baseline": "middle", "fontSize": 23, "color": "black"}, "encoding": {"text": {"field": "t2", "type": "nominal"}}},
        {"data": {"values": [{"t": "Desulfobacterota", "l": 1.943, "v": -5.78}]}, "mark": {"type": "text", "align": "center", "baseline": "middle", "fontSize": 26, "fontWeight": "bold", "color": "black"}, "encoding": {"text": {"field": "t", "type": "nominal"}}}
      ]
    },
    {
      "width": 1062, "height": 397,
      "encoding": {
        "x": {"field": "x", "type": "quantitative", "scale": {"domain": [-1.8, 6.067], "nice": false, "zero": false}, "axis": null},
        "y": {"field": "y", "type": "quantitative", "scale": {"domain": [-1.785, 1.156], "nice": false, "zero": false, "reverse": true}, "axis": null}
      },
      "layer": [
        {"data": {"name": "c_dr"},
         "transform": [{"stack": "pct", "groupby": [], "sort": [{"field": "ord", "order": "ascending"}], "as": ["t0", "t1"]}],
         "mark": {"type": "arc", "radius": 135, "stroke": "white", "strokeWidth": 0.5},
         "encoding": {
           "x": {"field": "cx", "type": "quantitative", "axis": null},
           "y": {"field": "cy", "type": "quantitative", "axis": null},
           "theta": {"field": "t0", "type": "quantitative", "scale": {"domain": [0, 100], "nice": false, "zero": false}},
           "theta2": {"field": "t1"},
           "color": {"field": "name", "type": "nominal", "scale": {"domain": ["Acidaminococcus", "CAG-873", "Coriobacteriaceae_UCG-002", "Coriobacteriales", "Bacteroidales", "Paraeggerthella", "Comamonas", "Rikenellaceae_RC9_gut_group", "others", "Dielma", "unclassified_c_Bacilli", "Pygmaiobacter", "Anaerostignum", "Azospira", "Murdochiella", "AB1", "Sva0485"], "range": ["#c9a3a0", "#b3af93", "#b19caa", "#6aa9a9", "#b39c85", "#7fcb9d", "#9a8a8f", "#6b5b3f", "#c9bb5d", "#8fb0c1", "#a1a5b6", "#cfab9c", "#898b78", "#b885b2", "#b39574", "#e4857f", "#4e4f47"]}, "legend": null}}},
        {"data": {"name": "c_dm"},
         "transform": [{"stack": "pct", "groupby": [], "sort": [{"field": "ord", "order": "ascending"}], "as": ["t0", "t1"]}],
         "mark": {"type": "arc", "radius": 135, "stroke": "white", "strokeWidth": 0.5},
         "encoding": {
           "x": {"field": "cx", "type": "quantitative", "axis": null},
           "y": {"field": "cy", "type": "quantitative", "axis": null},
           "theta": {"field": "t0", "type": "quantitative", "scale": {"domain": [0, 100], "nice": false, "zero": false}},
           "theta2": {"field": "t1"},
           "color": {"field": "name", "type": "nominal", "scale": {"domain": ["Acidaminococcus", "CAG-873", "Coriobacteriaceae_UCG-002", "Coriobacteriales", "Bacteroidales", "Paraeggerthella", "Comamonas", "Rikenellaceae_RC9_gut_group", "others", "Dielma", "unclassified_c_Bacilli", "Pygmaiobacter", "Anaerostignum", "Azospira", "Murdochiella", "AB1", "Sva0485"], "range": ["#c9a3a0", "#b3af93", "#b19caa", "#6aa9a9", "#b39c85", "#7fcb9d", "#9a8a8f", "#6b5b3f", "#c9bb5d", "#8fb0c1", "#a1a5b6", "#cfab9c", "#898b78", "#b885b2", "#b39574", "#e4857f", "#4e4f47"]}, "legend": null}}},
        {"data": {"name": "c_b_ln"}, "mark": {"type": "line", "strokeWidth": 1.4, "interpolate": "basis"},
         "encoding": {
           "color": {"field": "name", "type": "nominal", "scale": {"domain": ["Acidaminococcus", "CAG-873", "Coriobacteriaceae_UCG-002", "Coriobacteriales", "Bacteroidales", "Paraeggerthella", "Comamonas", "Rikenellaceae_RC9_gut_group", "others", "Dielma", "unclassified_c_Bacilli", "Pygmaiobacter", "Anaerostignum", "Azospira", "Murdochiella", "AB1", "Sva0485"], "range": ["#c9a3a0", "#b3af93", "#b19caa", "#6aa9a9", "#b39c85", "#7fcb9d", "#9a8a8f", "#6b5b3f", "#c9bb5d", "#8fb0c1", "#a1a5b6", "#cfab9c", "#898b78", "#b885b2", "#b39574", "#e4857f", "#4e4f47"]}, "legend": null},
           "detail": {"field": "name", "type": "nominal"},
           "order": {"field": "i", "type": "quantitative"}}},
        {"data": {"name": "c_b_r"}, "mark": {"type": "text", "align": "right", "baseline": "middle", "fontSize": 16, "color": "#1a1a1a"}, "encoding": {"text": {"field": "t", "type": "nominal"}}},
        {"data": {"name": "c_b_l"}, "mark": {"type": "text", "align": "left", "baseline": "middle", "fontSize": 16, "color": "#1a1a1a"}, "encoding": {"text": {"field": "t", "type": "nominal"}}},
        {"data": {"values": [{"t": "DR", "x": 0, "y": 0.622}, {"t": "DM", "x": 4.867, "y": 0.63}]}, "mark": {"type": "text", "align": "center", "baseline": "middle", "fontSize": 23, "color": "#404040"}, "encoding": {"text": {"field": "t", "type": "nominal"}}}
      ]
    }
  ]
}
